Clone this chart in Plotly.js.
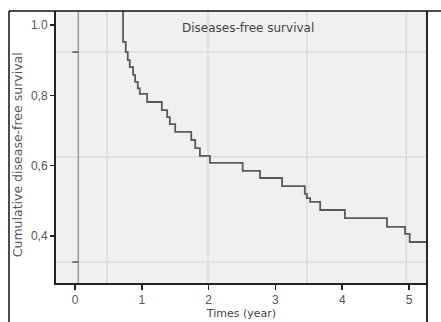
<!DOCTYPE html>
<html>
<head>
<meta charset="utf-8">
<script src="https://cdn.plot.ly/plotly-3.0.1.min.js"></script>
<style>html,body{margin:0;padding:0;background:#fff;}#chart{width:441px;height:322px;}</style>
</head>
<body>
<div id="chart"></div>
<script>
// Kaplan-Meier step points (time in years, cumulative survival)
const times = [0.72, 0.72, 0.76, 0.79, 0.82, 0.87, 0.90, 0.94, 0.97, 1.08, 1.30, 1.38, 1.42, 1.50, 1.74, 1.80, 1.87, 2.02, 2.51, 2.77, 3.10, 3.44, 3.47, 3.52, 3.67, 4.04, 4.67, 4.94, 5.01, 5.27];
const survival = [1.06, 0.952, 0.923, 0.900, 0.880, 0.858, 0.838, 0.820, 0.804, 0.781, 0.758, 0.738, 0.718, 0.696, 0.673, 0.650, 0.628, 0.608, 0.585, 0.565, 0.542, 0.520, 0.508, 0.497, 0.474, 0.451, 0.426, 0.406, 0.383, 0.383];
const xTicks = [0, 1, 2, 3, 4, 5];
const xTickLabels = ["0", "1", "2", "3", "4", "5"];
const yTicks = [0.4, 0.6, 0.8, 1.0];
const yTickLabels = ["0,4", "0,6", "0,8", "1.0"];
const chartTitle = "Diseases-free survival";
const xTitle = "Times (year)";
const yTitle = "Cumulative disease-free survival";

const trace = {
  x: times, y: survival, type: "scatter", mode: "lines",
  line: {shape: "hv", color: "#5a5a5a", width: 1.8},
  hoverinfo: "skip", showlegend: false
};

const gridV = [0.48, 1.99, 3.47, 4.96];
const gridH = [0.923, 0.625, 0.326];
const shapes = [];
gridV.forEach(v => shapes.push({type:"line", xref:"x", yref:"paper", x0:v, x1:v, y0:0, y1:1, line:{color:"#dcdcdc", width:1.5}, layer:"below"}));
gridH.forEach(v => shapes.push({type:"line", xref:"paper", yref:"y", x0:0, x1:1, y0:v, y1:v, line:{color:"#dcdcdc", width:1.5}, layer:"below"}));
gridH.forEach(v => { if (v !== 0.625) shapes.push({type:"line", xref:"x", yref:"y", x0:-0.04, x1:0.05, y0:v, y1:v, line:{color:"#555", width:1.5}}); });
shapes.push({type:"line", xref:"x", yref:"paper", x0:0.05, x1:0.05, y0:0, y1:1, line:{color:"#9a9a9a", width:1.5}, layer:"below"});
// outer frame
shapes.push({type:"line", xref:"paper", yref:"paper", x0:-0.1267, x1:-0.1267, y0:-0.2, y1:1, line:{color:"#111", width:1.5}});
shapes.push({type:"line", xref:"paper", yref:"paper", x0:-0.1267, x1:1.05, y0:1, y1:1, line:{color:"#111", width:1.5}});
shapes.push({type:"line", xref:"paper", yref:"paper", x0:1, x1:1, y0:-0.2, y1:1, line:{color:"#111", width:1.8}});

const layout = {
  width: 441, height: 322,
  margin: {l: 56, r: 14, t: 11, b: 39},
  paper_bgcolor: "#ffffff", plot_bgcolor: "#f0f0f0",
  font: {family: "DejaVu Sans, sans-serif", size: 11, color: "#444"},
  showlegend: false,
  xaxis: {
    range: [-0.284, 5.269], tickvals: xTicks, ticktext: xTickLabels,
    showgrid: false, zeroline: false, showline: true, linecolor: "#222", linewidth: 2,
    ticks: "outside", ticklen: 5, tickwidth: 1.5, tickcolor: "#222",
    tickfont: {family: "Liberation Sans, Arial, sans-serif", size: 12, color: "#555"},
    title: {text: xTitle, standoff: 3, font: {size: 11, color: "#444"}}
  },
  yaxis: {
    range: [0.2664, 1.0398], tickvals: yTicks, ticktext: yTickLabels,
    showgrid: false, zeroline: false, showline: true, linecolor: "#222", linewidth: 2,
    ticks: "outside", ticklen: 4, tickwidth: 1.5, tickcolor: "#222",
    tickfont: {family: "Liberation Sans, Arial, sans-serif", size: 12, color: "#555"}
  },
  shapes: shapes,
  annotations: [
    {text: chartTitle, xref: "paper", yref: "paper", x: 0.517, y: 0.937, xanchor: "center", yanchor: "middle", showarrow: false, font: {size: 12, color: "#444"}},
    {text: yTitle, xref: "paper", yref: "paper", x: -0.105, y: 0.47, xanchor: "center", yanchor: "middle", textangle: -90, showarrow: false, font: {size: 12.5, color: "#555"}}
  ]
};

Plotly.newPlot("chart", [trace], layout, {staticPlot: true, displayModeBar: false});
</script>
</body>
</html>
